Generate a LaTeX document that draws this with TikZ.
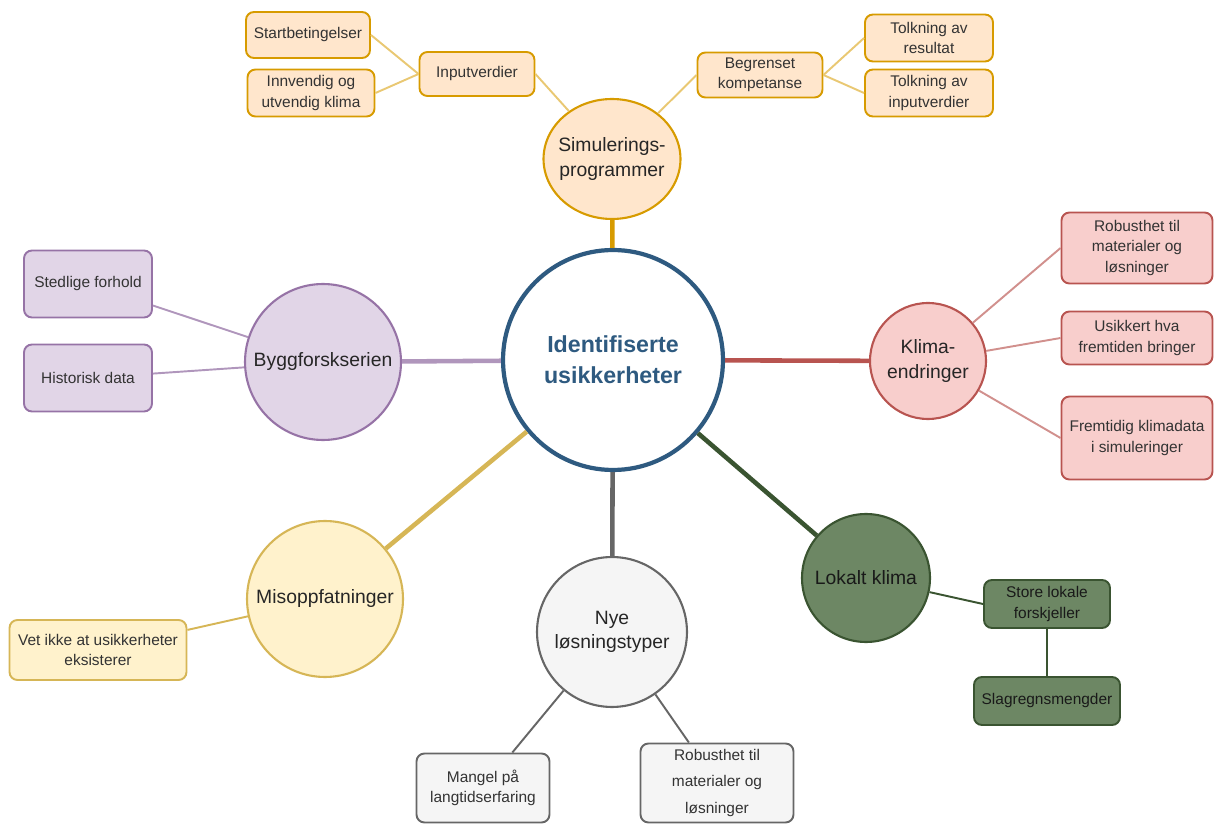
\documentclass[tikz,border=0pt]{standalone}
\usepackage{fontspec}
\setmainfont{Liberation Sans}
\usetikzlibrary{positioning,shapes.geometric}
\definecolor{hubblue}{RGB}{46,90,128}
\definecolor{simfill}{RGB}{255,230,204}
\definecolor{simline}{RGB}{215,155,0}
\definecolor{bygfill}{RGB}{225,213,231}
\definecolor{bygline}{RGB}{150,115,166}
\definecolor{klifill}{RGB}{248,206,204}
\definecolor{kliline}{RGB}{184,84,80}
\definecolor{lokfill}{RGB}{109,135,100}
\definecolor{lokline}{RGB}{58,84,49}
\definecolor{nyefill}{RGB}{245,245,245}
\definecolor{nyeline}{RGB}{102,102,102}
\definecolor{misfill}{RGB}{255,242,204}
\definecolor{misline}{RGB}{214,182,86}

\begin{document}
\begin{tikzpicture}[
  x=0.02cm,y=-0.02cm,
  hub/.style={circle,draw=hubblue,line width=2.4pt,fill=white,minimum size=4.4cm,inner sep=0pt,align=center,text=hubblue,font=\fontsize{13.2}{17.5}\selectfont\bfseries},
  topic/.style={circle,line width=1.2pt,inner sep=0pt,align=center,text=black!85,font=\fontsize{11}{13.8}\selectfont},
  leaf/.style={draw,rounded corners=4.5pt,line width=1.1pt,inner sep=0pt,align=center,text=black!80,font=\fontsize{8.8}{11.5}\selectfont},
  link/.style={line width=1.1pt},
  spoke/.style={line width=2.6pt}
]
  \useasboundingbox (0,0) rectangle (1215,824);

  % hub
  \node[hub] (hub) at (613,360) {Identifiserte\\usikkerheter};

  % simuleringsprogrammer
  \node[topic,ellipse,inner xsep=-3pt,draw=simline,fill=simfill,minimum width=2.7cm,minimum height=2.4cm] (sim) at (612,159) {Simulerings-\\programmer};
  \node[leaf,draw=simline,fill=simfill,minimum width=2.3cm,minimum height=0.88cm] (input) at (477,74) {Inputverdier};
  \node[leaf,draw=simline,fill=simfill,minimum width=2.48cm,minimum height=0.92cm] (start) at (308,35) {Startbetingelser};
  \node[leaf,draw=simline,fill=simfill,minimum width=2.54cm,minimum height=0.94cm] (klimainn) at (311,93) {Innvendig og\\utvendig klima};
  \node[leaf,draw=simline,fill=simfill,minimum width=2.5cm,minimum height=0.9cm] (begr) at (760,75) {Begrenset\\kompetanse};
  \node[leaf,draw=simline,fill=simfill,minimum width=2.56cm,minimum height=0.94cm] (tolkres) at (929,38) {Tolkning av\\resultat};
  \node[leaf,draw=simline,fill=simfill,minimum width=2.56cm,minimum height=0.94cm] (tolkinp) at (929,93) {Tolkning av\\inputverdier};

  % byggforskserien
  \node[topic,draw=bygline,fill=bygfill,minimum size=3.12cm] (byg) at (323,362) {Byggforskserien};
  \node[leaf,draw=bygline,fill=bygfill,minimum width=2.56cm,minimum height=1.34cm] (stedlig) at (88,284) {Stedlige forhold};
  \node[leaf,draw=bygline,fill=bygfill,minimum width=2.56cm,minimum height=1.34cm] (historisk) at (88,378) {Historisk data};

  % klimaendringer
  \node[topic,draw=kliline,fill=klifill,minimum size=2.32cm] (klima) at (928,361) {Klima-\\endringer};
  \node[leaf,draw=kliline,fill=klifill,minimum width=3.02cm,minimum height=1.42cm] (robklima) at (1137,248) {Robusthet til\\materialer og\\løsninger};
  \node[leaf,draw=kliline,fill=klifill,minimum width=3.02cm,minimum height=1.06cm] (usikkert) at (1137,338) {Usikkert hva\\fremtiden bringer};
  \node[leaf,draw=kliline,fill=klifill,minimum width=3.02cm,minimum height=1.66cm] (fremtidig) at (1137,438) {Fremtidig klimadata\\i simuleringer};

  % lokalt klima
  \node[topic,draw=lokline,fill=lokfill,minimum size=2.56cm,text=black!90] (lokalt) at (866,578) {Lokalt klima};
  \node[leaf,draw=lokline,fill=lokfill,minimum width=2.52cm,minimum height=0.96cm,text=black!90] (store) at (1047,604) {Store lokale\\forskjeller};
  \node[leaf,draw=lokline,fill=lokfill,minimum width=2.92cm,minimum height=0.96cm,text=black!90] (slagregn) at (1047,701) {Slagregnsmengder};

  % nye løsningstyper
  \node[topic,draw=nyeline,fill=nyefill,minimum size=3.0cm] (nye) at (612,632) {Nye\\løsningstyper};
  \node[leaf,draw=nyeline,fill=nyefill,minimum width=2.66cm,minimum height=1.38cm] (mangel) at (483,788) {Mangel på\\langtidserfaring};
  \node[leaf,draw=nyeline,fill=nyefill,minimum width=3.06cm,minimum height=1.58cm,font=\fontsize{8.8}{15}\selectfont] (robnye) at (717,783) {Robusthet til\\materialer og\\løsninger};

  % misoppfatninger
  \node[topic,draw=misline,fill=misfill,minimum size=3.12cm] (misopp) at (325,599) {Misoppfatninger};
  \node[leaf,draw=misline,fill=misfill,minimum width=3.54cm,minimum height=1.2cm] (vetikke) at (98,650) {Vet ikke at usikkerheter\\eksisterer};

  % spokes from hub
  \draw[spoke,simline] (hub) -- (sim);
  \draw[spoke,bygline!75] (hub) -- (byg);
  \draw[spoke,kliline] (hub) -- (klima);
  \draw[spoke,lokline] (hub) -- (lokalt);
  \draw[spoke,nyeline] (hub) -- (nye);
  \draw[spoke,misline] (hub) -- (misopp);

  % leaf links
  \draw[link,simline!55] (start.east) -- (input.west);
  \draw[link,simline!55] (klimainn.east) -- (input.west);
  \draw[link,simline!55] (input.east) -- (sim);
  \draw[link,simline!55] (begr.west) -- (sim);
  \draw[link,simline!55] (begr.east) -- (tolkres.west);
  \draw[link,simline!55] (begr.east) -- (tolkinp.west);
  \draw[link,bygline!75] (stedlig) -- (byg);
  \draw[link,bygline!75] (historisk) -- (byg);
  \draw[link,kliline!65] (klima) -- (robklima.west);
  \draw[link,kliline!65] (klima) -- (usikkert.west);
  \draw[link,kliline!65] (klima) -- (fremtidig.west);
  \draw[link,lokline] (lokalt) -- (store.west);
  \draw[link,lokline] (store) -- (slagregn);
  \draw[link,nyeline] (nye) -- (mangel);
  \draw[link,nyeline] (nye) -- (robnye);
  \draw[link,misline] (misopp) -- (vetikke);
\end{tikzpicture}
\end{document}
